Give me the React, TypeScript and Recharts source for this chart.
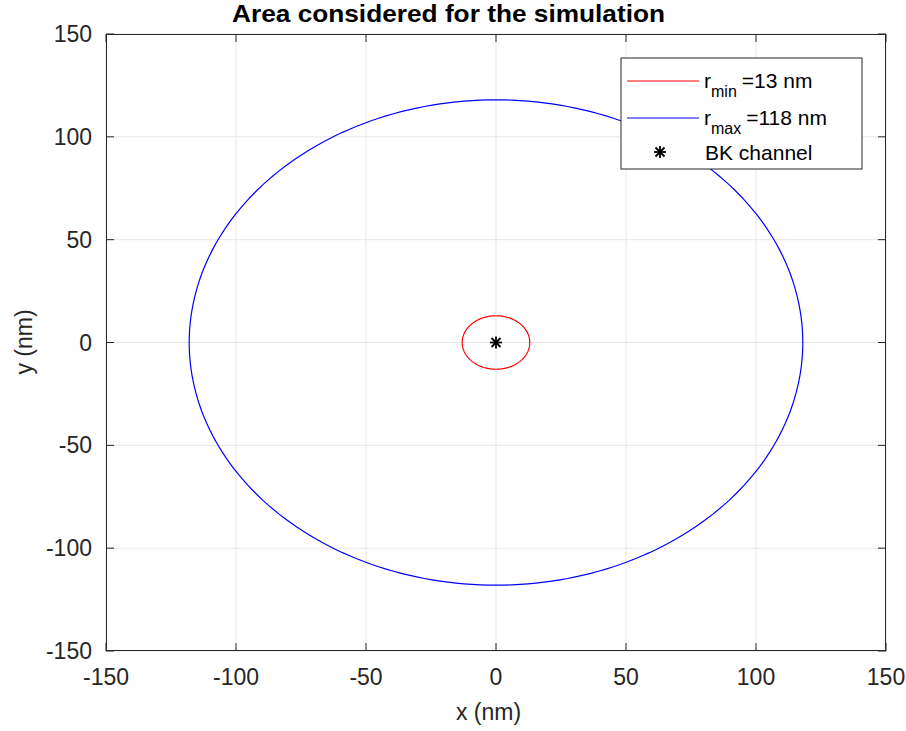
import React from "react";
import { ScatterChart, Scatter, XAxis, YAxis, CartesianGrid } from "recharts";

const radii = [13, 118];
const circleColors = ["#ff0000", "#0000ff"];
const circleNames = ["min", "max"];
const channel = [{ x: 0, y: 0 }];
const ticks = [-150, -100, -50, 0, 50, 100, 150];

const W = 906;
const H = 731;
const L = 106;
const R = 886;
const T = 34;
const B = 651;
const AX_W = 60;
const AX_H = 40;
const FONT = "'Liberation Sans', Arial, Helvetica, sans-serif";

// parametric circle around the channel
const circle = (r: number) => {
    const pts = [];
    for (let i = 0; i <= 240; i++) {
        const a = (i / 240) * Math.PI * 2;
        pts.push({ x: r * Math.cos(a), y: r * Math.sin(a) });
    }
    return pts;
};

const Asterisk = ({ cx, cy, s = 6 }: { cx: number; cy: number; s?: number }) => {
    const d = s * 0.75;
    return (
        <g stroke="#000" strokeWidth={1.8}>
            <line x1={cx} y1={cy - s} x2={cx} y2={cy + s} />
            <line x1={cx - s} y1={cy} x2={cx + s} y2={cy} />
            <line x1={cx - d} y1={cy - d} x2={cx + d} y2={cy + d} />
            <line x1={cx - d} y1={cy + d} x2={cx + d} y2={cy - d} />
        </g>
    );
};

const XTick = (props: any) => {
    const { x, payload } = props;
    return (
        <g>
            <line x1={x} y1={B} x2={x} y2={B - 8} stroke="#262626" />
            <line x1={x} y1={T} x2={x} y2={T + 8} stroke="#262626" />
            <text x={x} y={B + 34} textAnchor="middle" fontSize={23} fill="#262626" fontFamily={FONT}>
                {payload.value}
            </text>
        </g>
    );
};

const YTick = (props: any) => {
    const { y, payload } = props;
    return (
        <g>
            <line x1={L} y1={y} x2={L + 8} y2={y} stroke="#262626" />
            <line x1={R} y1={y} x2={R - 8} y2={y} stroke="#262626" />
            <text x={92} y={y + 8} textAnchor="end" fontSize={23} fill="#262626" fontFamily={FONT}>
                {payload.value}
            </text>
        </g>
    );
};

export default function App() {
    return (
        <div style={{ position: "absolute", left: 0, top: 0, width: W, height: H, background: "#fff" }}>
            <ScatterChart
                width={W}
                height={H}
                margin={{ top: T, right: W - R, bottom: H - B - AX_H, left: L - AX_W }}
            >
                <CartesianGrid stroke="#e6e6e6" strokeWidth={1} />
                <XAxis
                    type="number"
                    dataKey="x"
                    domain={[-150, 150]}
                    ticks={ticks}
                    height={AX_H}
                    axisLine={false}
                    tickLine={false}
                    tick={XTick}
                    interval={0}
                    allowDataOverflow
                />
                <YAxis
                    type="number"
                    dataKey="y"
                    domain={[-150, 150]}
                    ticks={ticks}
                    width={AX_W}
                    axisLine={false}
                    tickLine={false}
                    tick={YTick}
                    interval={0}
                    allowDataOverflow
                />
                {radii.map((r, i) => (
                    <Scatter
                        key={circleNames[i]}
                        data={circle(r)}
                        line={{ stroke: circleColors[i], strokeWidth: 1.2 }}
                        lineType="joint"
                        shape={() => <g />}
                        isAnimationActive={false}
                    />
                ))}
                <Scatter
                    data={channel}
                    shape={(p: any) => <Asterisk cx={p.cx} cy={p.cy} />}
                    isAnimationActive={false}
                />
            </ScatterChart>
            <div
                style={{
                    position: "absolute",
                    left: L,
                    top: T,
                    width: R - L,
                    height: B - T,
                    border: "1px solid #262626",
                    boxSizing: "border-box",
                    pointerEvents: "none",
                }}
            />
            <svg width={W} height={H} style={{ position: "absolute", left: 0, top: 0, pointerEvents: "none" }}>
                <text x={448.5} y={22} textAnchor="middle" fontSize={24} fontWeight="bold" fill="#000" fontFamily={FONT} textLength={433} lengthAdjust="spacingAndGlyphs">
                    Area considered for the simulation
                </text>
                <text x={488.5} y={720} textAnchor="middle" fontSize={23} fill="#262626" fontFamily={FONT}>
                    x (nm)
                </text>
                <text x={32} y={342} textAnchor="middle" fontSize={23} fill="#262626" fontFamily={FONT} transform="rotate(-90 32 342)">
                    y (nm)
                </text>
                <rect x={621} y={58} width={241} height={111} fill="#fff" stroke="#262626" strokeWidth={1} />
                {radii.map((r, i) => {
                    const cy = 81 + i * 37;
                    return (
                        <g key={circleNames[i]} fontFamily={FONT} fill="#000">
                            <line x1={627} y1={cy} x2={699} y2={cy} stroke={circleColors[i]} strokeWidth={1.2} />
                            <text x={704} y={cy + 7} fontSize={21}>
                                r
                                <tspan dy={9} fontSize={16}>{circleNames[i]}</tspan>
                                <tspan dy={-9} dx={5} fontSize={21}>{"=" + r + " nm"}</tspan>
                            </text>
                        </g>
                    );
                })}
                <Asterisk cx={660} cy={152} />
                <text x={705} y={160} fontSize={21} fill="#000" fontFamily={FONT}>
                    BK channel
                </text>
            </svg>
        </div>
    );
}
